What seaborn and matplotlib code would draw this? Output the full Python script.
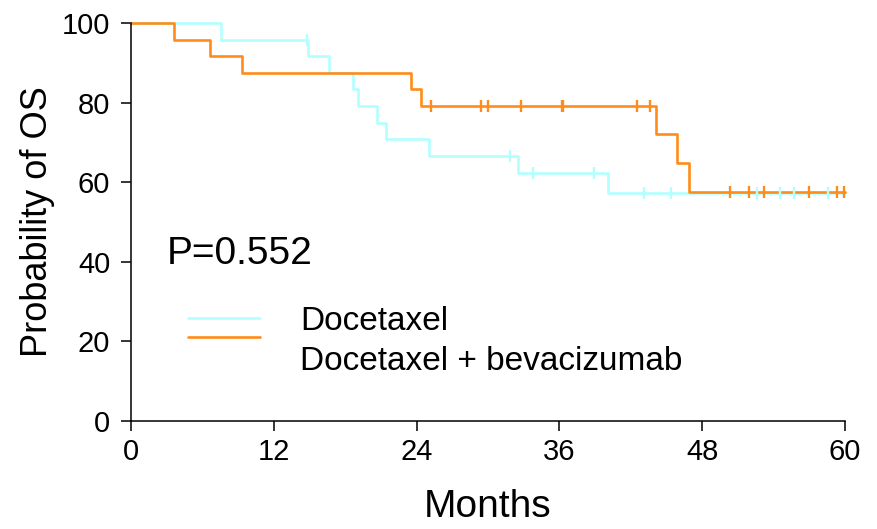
import matplotlib

matplotlib.use("Agg")
import matplotlib.pyplot as plt
import numpy as np
import pandas as pd
import seaborn as sns
from matplotlib.lines import Line2D


END_MONTH = 60
MONTH_TICKS = [0, 12, 24, 36, 48, 60]
OS_TICKS = [0, 20, 40, 60, 80, 100]
ARMS = ["Docetaxel", "Docetaxel + bevacizumab"]
COLORS = ["#b3ffff", "#ff8c1a"]
P_TEXT = "P=0.552"

# docetaxel arm: step times (months), survival after each step (%), censor times
doc_times = [0, 7.6, 14.9, 16.6, 18.65, 19.1, 20.7, 21.4, 25.0, 32.5, 40.1]
doc_surv = [100, 95.8, 91.7, 87.5, 83.3, 79.2, 75.0, 70.8, 66.7, 62.3, 57.3]
doc_censor = [14.8, 31.85, 33.8, 38.9, 43.1, 45.4, 52.6, 54.5, 55.7, 58.6]

# docetaxel + bevacizumab arm
bev_times = [0, 3.6, 6.6, 9.3, 23.5, 24.4, 44.1, 45.9, 46.9]
bev_surv = [100, 95.8, 91.7, 87.5, 83.3, 79.2, 72.0, 64.7, 57.6]
bev_censor = [25.2, 29.4, 30.0, 32.8, 36.2, 36.3, 42.5, 43.6,
              50.3, 51.9, 53.2, 57.0, 59.3, 59.9]


def step_frame(arm, times, surv):
    t = list(times) + [END_MONTH]
    s = list(surv) + [surv[-1]]
    return pd.DataFrame({"month": t, "os": s, "arm": arm})


def censor_frame(arm, times, surv, censor):
    idx = np.searchsorted(times, censor, side="right") - 1
    return pd.DataFrame({"month": censor, "os": np.asarray(surv)[idx], "arm": arm})


sns.set_style("ticks")
plt.rcParams["font.family"] = ["Liberation Sans", "DejaVu Sans"]
plt.rcParams["text.color"] = "black"
plt.rcParams["axes.labelcolor"] = "black"

curves = pd.concat([
    step_frame(ARMS[0], doc_times, doc_surv),
    step_frame(ARMS[1], bev_times, bev_surv),
])
marks = pd.concat([
    censor_frame(ARMS[0], doc_times, doc_surv, doc_censor),
    censor_frame(ARMS[1], bev_times, bev_surv, bev_censor),
])
palette = dict(zip(ARMS, COLORS))

fig = plt.figure(figsize=(8.77, 5.29), dpi=100)
ax = fig.add_axes([0.1494, 0.2042, 0.8141, 0.7523])

for arm in ARMS:
    sns.lineplot(
        data=curves[curves["arm"] == arm], x="month", y="os",
        color=palette[arm], drawstyle="steps-post", estimator=None,
        sort=False, linewidth=1.9, ax=ax, clip_on=False,
    )
    sns.scatterplot(
        data=marks[marks["arm"] == arm], x="month", y="os",
        color=palette[arm], marker="|", s=80, linewidth=1.7,
        ax=ax, clip_on=False, zorder=3,
    )

ax.set_xlim(0, END_MONTH)
ax.set_ylim(0, 100)
ax.set_xticks(MONTH_TICKS)
ax.set_yticks(OS_TICKS)
ax.tick_params(direction="out", length=7, width=1.1,
               labelsize=21, color="black", labelcolor="black")
ax.tick_params(axis="y", pad=8)
ax.tick_params(axis="x", pad=5)
for side in ["top", "right"]:
    ax.spines[side].set_visible(False)
for side in ["left", "bottom"]:
    ax.spines[side].set_linewidth(1.1)
    ax.spines[side].set_color("black")

ax.set_xlabel("Months", fontsize=28, labelpad=17)
ax.set_ylabel("Probability of OS", fontsize=26, labelpad=5)

ax.text(0.05, 0.394, P_TEXT, transform=ax.transAxes, fontsize=28,
        ha="left", va="baseline")

# hand-made legend: lines and labels sit a little apart in the original
for y_line, color in zip([0.259, 0.212], COLORS):
    ax.add_line(Line2D([0.080, 0.181], [y_line, y_line], transform=ax.transAxes,
                       color=color, linewidth=1.9))
for y_text, label in zip([0.229, 0.128], ARMS):
    ax.text(0.237, y_text, label, transform=ax.transAxes, fontsize=24,
            ha="left", va="baseline")

fig.savefig("out.png", dpi=100)
plt.close(fig)
